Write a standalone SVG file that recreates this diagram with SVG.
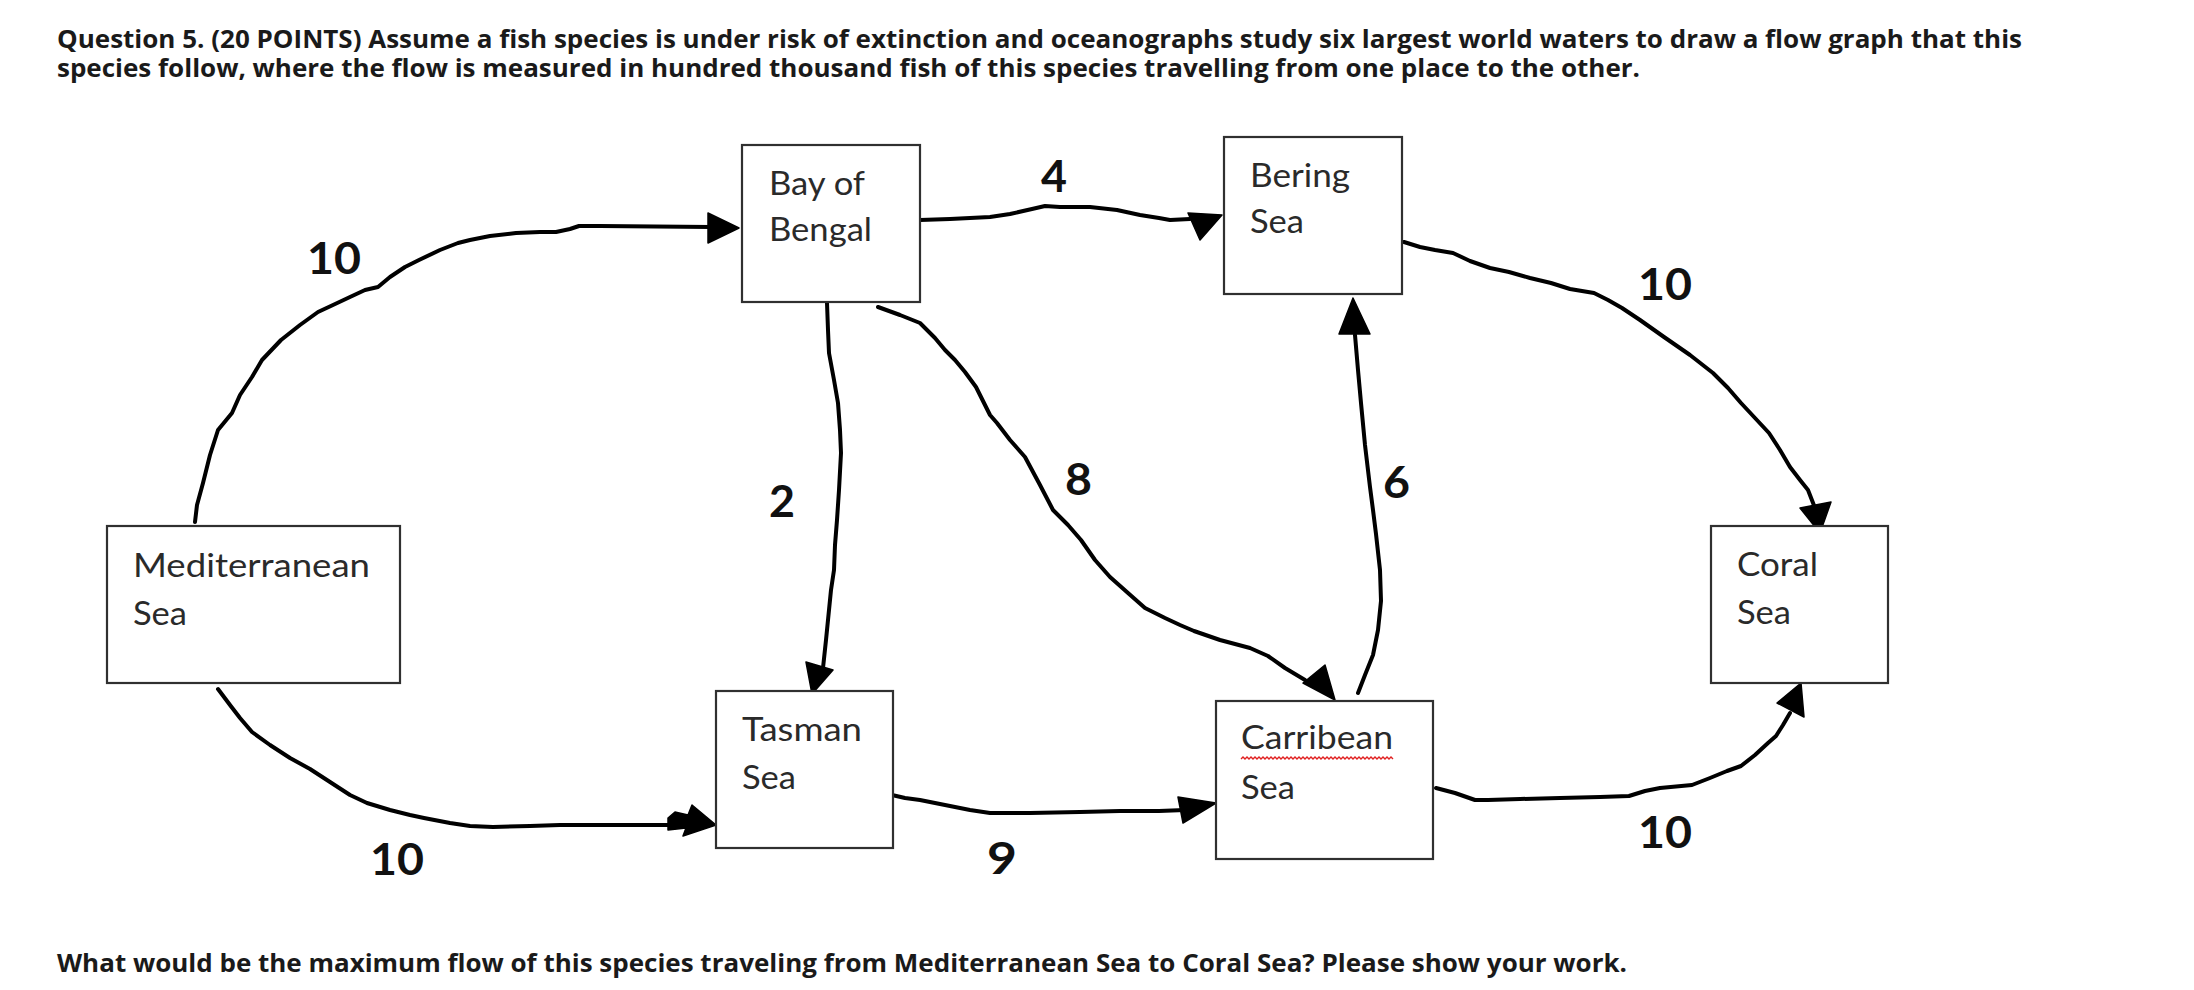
<svg xmlns="http://www.w3.org/2000/svg" width="2194" height="990" viewBox="0 0 2194 990">
<style>
.bg{fill:#ffffff}
.box{fill:#ffffff;stroke:#303030;stroke-width:2.2}
.lbl{font-family:Lato,"Liberation Sans",sans-serif;font-size:33px;fill:#2a2a2a}
.num{font-family:Lato,"Liberation Sans",sans-serif;font-size:44px;font-weight:bold;fill:#111111}
.q{font-family:"Open Sans","Noto Sans","Liberation Sans",sans-serif;font-size:25px;font-weight:bold;fill:#1a1a1a}
.ln{fill:none;stroke:#000000;stroke-width:4;stroke-linejoin:round;stroke-linecap:round}
.ah{fill:#000000;stroke:#000000;stroke-width:1.5;stroke-linejoin:round}
.wavy{fill:none;stroke:#e02020;stroke-width:1.4}
</style>
<rect class="bg" x="0" y="0" width="2194" height="990"/>
<g id="title">
<text class="q" x="57" y="48" textLength="1965" lengthAdjust="spacingAndGlyphs">Question 5. (20 POINTS) Assume a fish species is under risk of extinction and oceanographs study six largest world waters to draw a flow graph that this</text>
<text class="q" x="57" y="77" textLength="1583" lengthAdjust="spacingAndGlyphs">species follow, where the flow is measured in hundred thousand fish of this species travelling from one place to the other.</text>
</g>
<g id="connectors">
<polyline class="ln" points="195,522 197,505 203,483 210,455 218,430 232,413 240,395 252,377 262,360 281,340 300,325 318,312 333,305 350,297 365,290 378,287 390,277 405,267 419,260 440,250 458,243 470,240 490,236 516,233 540,232 556,232 570,229 579,226 600,226 711,227"/>
<polygon class="ah" points="708,213 739,228 708,243"/>
<polyline class="ln" points="920,220 950,219 990,217 1010,214 1032,209 1045,206 1060,207 1090,207 1117,210 1140,215 1159,218 1170,220 1190,219"/>
<polygon class="ah" points="1188,213 1222,215 1200,240"/>
<polyline class="ln" points="1404,242 1420,247 1435,250 1453,253 1470,261 1490,268 1509,272 1530,278 1551,283 1570,289 1594,293 1608,300 1622,308 1640,320 1664,337 1690,355 1713,373 1728,388 1741,403 1755,418 1769,433 1780,450 1790,467 1800,480 1808,490 1815,508"/>
<polygon class="ah" points="1800,508 1831,502 1820,533"/>
<polyline class="ln" points="827,303 828,330 829,353 834,380 838,403 840,430 841,453 839,490 837,520 835,545 834,570 831,590 829,610 826,640 823,668"/>
<polygon class="ah" points="806,662 833,670 812,694"/>
<polyline class="ln" points="878,307 900,315 920,323 935,338 945,350 955,360 965,372 976,387 985,405 990,415 997,423 1010,440 1025,457 1040,485 1053,510 1068,525 1081,540 1095,560 1110,577 1128,593 1145,608 1165,618 1180,625 1194,631 1220,640 1250,648 1268,656 1285,668 1305,680"/>
<polygon class="ah" points="1303,683 1325,665 1335,700"/>
<polyline class="ln" points="1358,693 1365,675 1373,655 1378,630 1381,601 1380,570 1376,534 1373,510 1370,487 1365,445 1361,403 1358,370 1355,335"/>
<polygon class="ah" points="1339,334 1370,334 1353,298"/>
<polyline class="ln" points="218,689 230,705 240,718 252,732 270,745 290,758 310,769 330,782 350,795 367,803 390,810 410,815 424,818 450,823 470,826 493,827 530,826 560,825 597,825 640,825 680,825"/>
<polygon class="ah" points="668,818 675,812 688,815 692,805 716,825 683,836 686,828 668,830"/>
<polyline class="ln" points="892,795 905,798 920,800 945,805 970,810 990,813 1030,813 1080,812 1120,811 1159,811 1185,810"/>
<polygon class="ah" points="1178,797 1216,803 1183,823"/>
<polyline class="ln" points="1436,788 1455,793 1475,800 1488,800 1520,799 1560,798 1600,797 1629,796 1645,791 1660,788 1692,785 1710,778 1727,771 1741,766 1755,755 1768,743 1776,736 1783,725 1790,713"/>
<polygon class="ah" points="1777,703 1801,683 1804,717"/>
</g>
<g id="edge-labels">
<text class="num" x="307" y="274" textLength="54" lengthAdjust="spacingAndGlyphs">10</text>
<text class="num" x="1041" y="192" textLength="26" lengthAdjust="spacingAndGlyphs">4</text>
<text class="num" x="769" y="517" textLength="26" lengthAdjust="spacingAndGlyphs">2</text>
<text class="num" x="1065" y="495" textLength="27" lengthAdjust="spacingAndGlyphs">8</text>
<text class="num" x="1383" y="498" textLength="27" lengthAdjust="spacingAndGlyphs">6</text>
<text class="num" x="1638" y="300" textLength="54" lengthAdjust="spacingAndGlyphs">10</text>
<text class="num" x="370" y="875" textLength="54" lengthAdjust="spacingAndGlyphs">10</text>
<text class="num" x="987" y="874" textLength="30" lengthAdjust="spacingAndGlyphs">9</text>
<text class="num" x="1638" y="848" textLength="54" lengthAdjust="spacingAndGlyphs">10</text>
</g>
<g id="node-bay-of-bengal">
<rect class="box" x="742" y="145" width="178" height="157"/>
<text class="lbl" x="769" y="195" textLength="96" lengthAdjust="spacingAndGlyphs">Bay of</text>
<text class="lbl" x="769" y="241" textLength="103" lengthAdjust="spacingAndGlyphs">Bengal</text>
</g>
<g id="node-bering-sea">
<rect class="box" x="1224" y="137" width="178" height="157"/>
<text class="lbl" x="1250" y="187" textLength="100" lengthAdjust="spacingAndGlyphs">Bering</text>
<text class="lbl" x="1250" y="233" textLength="54" lengthAdjust="spacingAndGlyphs">Sea</text>
</g>
<g id="node-mediterranean-sea">
<rect class="box" x="107" y="526" width="293" height="157"/>
<text class="lbl" x="133" y="577" textLength="237" lengthAdjust="spacingAndGlyphs">Mediterranean</text>
<text class="lbl" x="133" y="625" textLength="54" lengthAdjust="spacingAndGlyphs">Sea</text>
</g>
<g id="node-tasman-sea">
<rect class="box" x="716" y="691" width="177" height="157"/>
<text class="lbl" x="742" y="741" textLength="120" lengthAdjust="spacingAndGlyphs">Tasman</text>
<text class="lbl" x="742" y="789" textLength="54" lengthAdjust="spacingAndGlyphs">Sea</text>
</g>
<g id="node-carribean-sea">
<rect class="box" x="1216" y="701" width="217" height="158"/>
<text class="lbl" x="1241" y="749" textLength="152" lengthAdjust="spacingAndGlyphs">Carribean</text>
<path class="wavy" d="M1241,759 l2,-2 l2,2 l2,-2 l2,2 l2,-2 l2,2 l2,-2 l2,2 l2,-2 l2,2 l2,-2 l2,2 l2,-2 l2,2 l2,-2 l2,2 l2,-2 l2,2 l2,-2 l2,2 l2,-2 l2,2 l2,-2 l2,2 l2,-2 l2,2 l2,-2 l2,2 l2,-2 l2,2 l2,-2 l2,2 l2,-2 l2,2 l2,-2 l2,2 l2,-2 l2,2 l2,-2 l2,2 l2,-2 l2,2 l2,-2 l2,2 l2,-2 l2,2 l2,-2 l2,2 l2,-2 l2,2 l2,-2 l2,2 l2,-2 l2,2 l2,-2 l2,2 l2,-2 l2,2 l2,-2 l2,2 l2,-2 l2,2 l2,-2 l2,2 l2,-2 l2,2 l2,-2 l2,2 l2,-2 l2,2 l2,-2 l2,2 l2,-2 l2,2 l2,-2 l2,2"/>
<text class="lbl" x="1241" y="799" textLength="54" lengthAdjust="spacingAndGlyphs">Sea</text>
</g>
<g id="node-coral-sea">
<rect class="box" x="1711" y="526" width="177" height="157"/>
<text class="lbl" x="1737" y="576" textLength="81" lengthAdjust="spacingAndGlyphs">Coral</text>
<text class="lbl" x="1737" y="624" textLength="54" lengthAdjust="spacingAndGlyphs">Sea</text>
</g>
<g id="question">
<text class="q" x="57" y="972" textLength="1570" lengthAdjust="spacingAndGlyphs">What would be the maximum flow of this species traveling from Mediterranean Sea to Coral Sea? Please show your work.</text>
</g>
</svg>
